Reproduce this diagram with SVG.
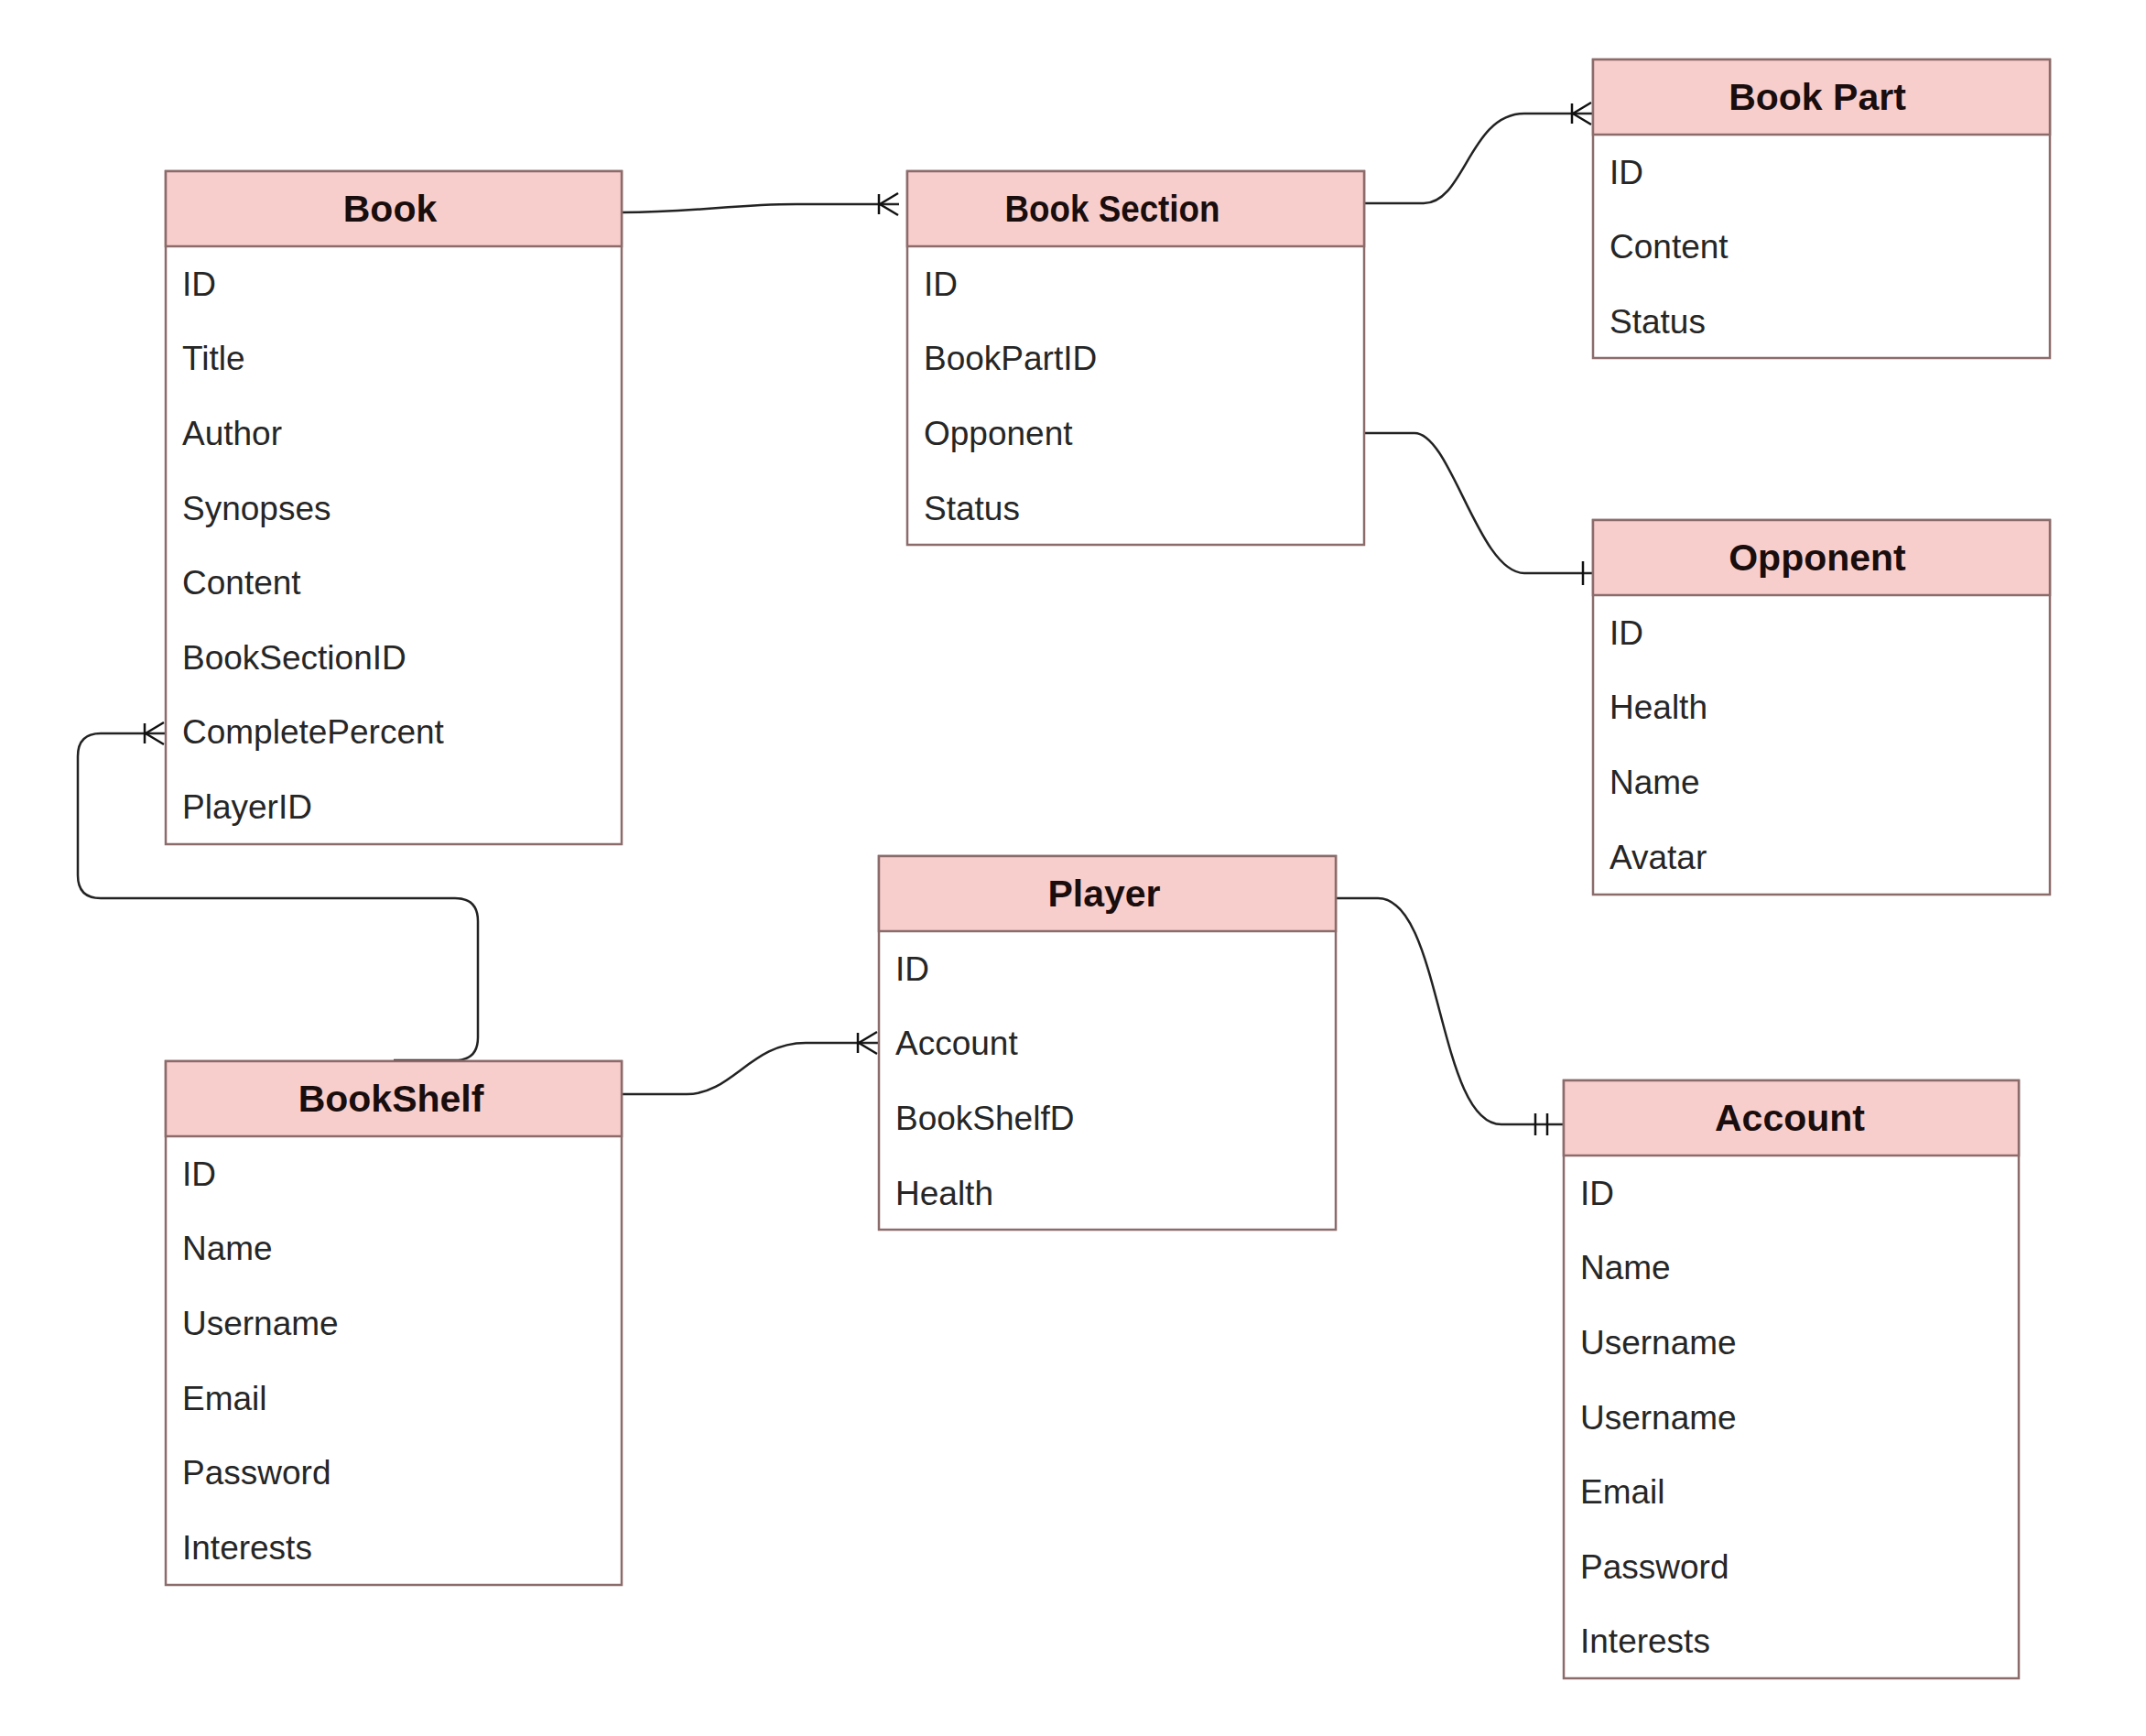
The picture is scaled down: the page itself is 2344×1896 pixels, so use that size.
<svg xmlns="http://www.w3.org/2000/svg" width="2344" height="1896" viewBox="0 0 2344 1896">
<style>
.box{fill:#ffffff;stroke:#8c6b6b;stroke-width:2.5}
.hdr{fill:#f8cecc;stroke:#8c6b6b;stroke-width:2.5}
.title{font-family:"Liberation Sans",Arial,sans-serif;font-size:41px;font-weight:bold;fill:#1a0d0d;text-anchor:middle}
.fld{font-family:"Liberation Sans",Arial,sans-serif;font-size:37px;fill:#262626}
.edge{fill:none;stroke:#222222;stroke-width:2.5}
.mk{fill:none;stroke:#111111;stroke-width:2.5}
</style>
<defs>
<marker id="many" markerUnits="userSpaceOnUse" markerWidth="40" markerHeight="40" viewBox="-40 -20 40 40" refX="0" refY="0" orient="auto" overflow="visible">
<path class="mk" d="M-22 -11 L-22 11 M-21 0 L-1 -12 M-21 0 L-1 12"/>
</marker>
<marker id="one" markerUnits="userSpaceOnUse" markerWidth="40" markerHeight="40" viewBox="-40 -20 40 40" refX="0" refY="0" orient="auto" overflow="visible">
<path class="mk" d="M-11 -13 L-11 13"/>
</marker>
<marker id="mandOne" markerUnits="userSpaceOnUse" markerWidth="40" markerHeight="40" viewBox="-40 -20 40 40" refX="0" refY="0" orient="auto" overflow="visible">
<path class="mk" d="M-30 -12 L-30 12 M-17 -12 L-17 12"/>
</marker>
</defs>
<rect x="0" y="0" width="2344" height="1896" fill="#ffffff"/>

<g id="connectors">
<path class="edge" d="M679 232 C760 232 800 223 870 223 L982 223" marker-end="url(#many)"/>
<path class="edge" d="M1490 222 L1555 222 C1600 222 1605 124 1665 124 L1739 124" marker-end="url(#many)"/>
<path class="edge" d="M1490 473 L1545 473 C1585 473 1615 626 1665 626 L1740 626" marker-end="url(#one)"/>
<path class="edge" d="M1459 981 L1505 981 C1575 981 1570 1228 1640 1228 L1707 1228" marker-end="url(#mandOne)"/>
<path class="edge" d="M679 1195 L750 1195 C800 1195 820 1139 880 1139 L959 1139" marker-end="url(#many)"/>
<path class="edge" d="M430 1158 L497 1158 Q522 1158 522 1133 L522 1006 Q522 981 497 981 L110 981 Q85 981 85 956 L85 826 Q85 801 110 801 L180 801" marker-end="url(#many)"/>
</g>

<g id="book">
<rect class="box" x="181" y="187" width="498" height="735"/>
<rect class="hdr" x="181" y="187" width="498" height="82"/>
<text class="title" x="426" y="242">Book</text>
<text class="fld" x="199" y="323">ID</text>
<text class="fld" x="199" y="404">Title</text>
<text class="fld" x="199" y="486">Author</text>
<text class="fld" x="199" y="568">Synopses</text>
<text class="fld" x="199" y="649">Content</text>
<text class="fld" x="199" y="731">BookSectionID</text>
<text class="fld" x="199" y="812">CompletePercent</text>
<text class="fld" x="199" y="894">PlayerID</text>
</g>

<g id="book-section">
<rect class="box" x="991" y="187" width="499" height="408"/>
<rect class="hdr" x="991" y="187" width="499" height="82"/>
<text class="title" x="1215" y="242" textLength="235" lengthAdjust="spacingAndGlyphs">Book Section</text>
<text class="fld" x="1009" y="323">ID</text>
<text class="fld" x="1009" y="404">BookPartID</text>
<text class="fld" x="1009" y="486">Opponent</text>
<text class="fld" x="1009" y="568">Status</text>
</g>

<g id="book-part">
<rect class="box" x="1740" y="65" width="499" height="326"/>
<rect class="hdr" x="1740" y="65" width="499" height="82"/>
<text class="title" x="1985" y="120">Book Part</text>
<text class="fld" x="1758" y="201">ID</text>
<text class="fld" x="1758" y="282">Content</text>
<text class="fld" x="1758" y="364">Status</text>
</g>

<g id="opponent">
<rect class="box" x="1740" y="568" width="499" height="409"/>
<rect class="hdr" x="1740" y="568" width="499" height="82"/>
<text class="title" x="1985" y="623">Opponent</text>
<text class="fld" x="1758" y="704">ID</text>
<text class="fld" x="1758" y="785">Health</text>
<text class="fld" x="1758" y="867">Name</text>
<text class="fld" x="1758" y="949">Avatar</text>
</g>

<g id="player">
<rect class="box" x="960" y="935" width="499" height="408"/>
<rect class="hdr" x="960" y="935" width="499" height="82"/>
<text class="title" x="1206" y="990">Player</text>
<text class="fld" x="978" y="1071">ID</text>
<text class="fld" x="978" y="1152">Account</text>
<text class="fld" x="978" y="1234">BookShelfD</text>
<text class="fld" x="978" y="1316">Health</text>
</g>

<g id="bookshelf">
<rect class="box" x="181" y="1159" width="498" height="572"/>
<rect class="hdr" x="181" y="1159" width="498" height="82"/>
<text class="title" x="427" y="1214">BookShelf</text>
<text class="fld" x="199" y="1295">ID</text>
<text class="fld" x="199" y="1376">Name</text>
<text class="fld" x="199" y="1458">Username</text>
<text class="fld" x="199" y="1540">Email</text>
<text class="fld" x="199" y="1621">Password</text>
<text class="fld" x="199" y="1703">Interests</text>
</g>

<g id="account">
<rect class="box" x="1708" y="1180" width="497" height="653"/>
<rect class="hdr" x="1708" y="1180" width="497" height="82"/>
<text class="title" x="1955" y="1235">Account</text>
<text class="fld" x="1726" y="1316">ID</text>
<text class="fld" x="1726" y="1397">Name</text>
<text class="fld" x="1726" y="1479">Username</text>
<text class="fld" x="1726" y="1561">Username</text>
<text class="fld" x="1726" y="1642">Email</text>
<text class="fld" x="1726" y="1724">Password</text>
<text class="fld" x="1726" y="1805">Interests</text>
</g>
</svg>
